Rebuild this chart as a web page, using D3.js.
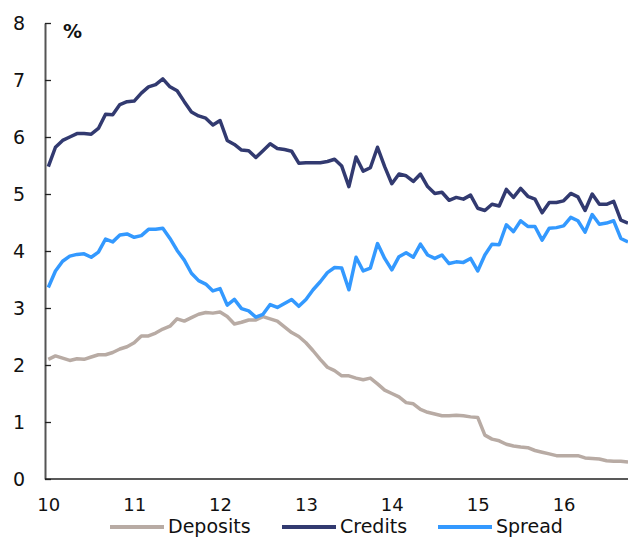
<!DOCTYPE html>
<html>
<head>
<meta charset="utf-8">
<script src="https://cdn.jsdelivr.net/npm/d3@7"></script>
<style>
  html, body { margin: 0; padding: 0; background: #fff; }
  svg { display: block; }
  text { font-family: "DejaVu Sans", sans-serif; fill: #111; }
</style>
</head>
<body>
<svg id="chart" width="628" height="538"></svg>
<script>
// Monthly observations, Jan 2010 .. Oct 2016 (index 0..81)
const deposits = [2.10,2.16,2.12,2.08,2.11,2.10,2.14,2.18,2.18,2.22,2.28,2.32,
  2.39,2.51,2.51,2.56,2.63,2.68,2.81,2.77,2.83,2.89,2.92,2.91,
  2.93,2.85,2.72,2.75,2.79,2.79,2.85,2.81,2.77,2.67,2.57,2.50,
  2.39,2.25,2.10,1.96,1.90,1.81,1.81,1.77,1.74,1.77,1.67,1.56,
  1.50,1.44,1.34,1.32,1.22,1.17,1.14,1.11,1.11,1.12,1.11,1.09,
  1.08,0.77,0.70,0.67,0.61,0.58,0.56,0.55,0.50,0.47,0.44,0.41,
  0.41,0.41,0.41,0.37,0.36,0.35,0.32,0.31,0.31,0.30];
const credits = [5.48,5.82,5.94,6.00,6.06,6.06,6.05,6.15,6.40,6.39,6.57,6.62,
  6.63,6.77,6.88,6.92,7.02,6.88,6.81,6.62,6.44,6.37,6.33,6.21,
  6.29,5.94,5.87,5.77,5.76,5.64,5.76,5.88,5.80,5.78,5.75,5.54,
  5.55,5.55,5.55,5.57,5.61,5.49,5.13,5.65,5.40,5.46,5.82,5.48,
  5.18,5.35,5.32,5.22,5.35,5.13,5.01,5.03,4.89,4.94,4.91,4.98,
  4.75,4.71,4.82,4.79,5.08,4.94,5.10,4.96,4.91,4.67,4.85,4.85,
  4.88,5.01,4.95,4.71,5.00,4.82,4.82,4.87,4.54,4.49];
const spread = [3.36,3.65,3.82,3.91,3.94,3.95,3.89,3.98,4.21,4.16,4.28,4.30,
  4.24,4.27,4.38,4.38,4.40,4.22,4.01,3.84,3.61,3.48,3.42,3.30,
  3.34,3.05,3.15,2.99,2.95,2.84,2.89,3.06,3.01,3.08,3.15,3.03,
  3.15,3.32,3.46,3.62,3.71,3.70,3.32,3.89,3.65,3.70,4.13,3.87,
  3.67,3.90,3.97,3.89,4.12,3.93,3.87,3.93,3.78,3.81,3.80,3.87,
  3.65,3.93,4.12,4.11,4.46,4.34,4.53,4.43,4.43,4.19,4.40,4.41,
  4.44,4.59,4.53,4.33,4.64,4.47,4.49,4.53,4.22,4.16];
const seriesNames = ["Deposits", "Credits", "Spread"];
const seriesColors = ["#b8aba4", "#323a70", "#3399ff"];
const xTickIndex = [0, 12, 24, 36, 48, 60, 72];
const xTickLabels = ["10", "11", "12", "13", "14", "15", "16"];
const yTicks = [0, 1, 2, 3, 4, 5, 6, 7, 8];
const unitLabel = "%";

const svg = d3.select("#chart");
const axisX = 45, plotTop = 23, plotBottom = 479, plotRight = 628;

const x = d3.scaleLinear().domain([0, deposits.length - 1]).range([48.3, 628]);
const y = d3.scaleLinear().domain([0, 8]).range([plotBottom, plotTop]);

// Y axis
const yAxis = d3.axisLeft(y).tickValues(yTicks).tickFormat(d3.format("d"))
  .tickSizeInner(-6).tickSizeOuter(0).tickPadding(20);
const gy = svg.append("g").attr("transform", `translate(${axisX},0)`).call(yAxis);
gy.select(".domain").attr("stroke", "#555").attr("stroke-width", 2);
gy.selectAll(".tick line").attr("stroke", "#222").attr("stroke-width", 1.3);
gy.selectAll(".tick text").attr("font-size", 19).attr("font-family", "DejaVu Sans").attr("fill", "#111");

// X axis
const xAxis = d3.axisBottom(x).tickValues(xTickIndex)
  .tickFormat((d, i) => xTickLabels[i]).tickSize(0).tickPadding(19);
const gx = svg.append("g").attr("transform", `translate(0,${plotBottom})`).call(xAxis);
gx.select(".domain").remove();
gx.selectAll(".tick text").attr("font-size", 18).attr("font-family", "DejaVu Sans").attr("fill", "#111");
svg.append("line").attr("x1", axisX).attr("x2", plotRight).attr("y1", plotBottom).attr("y2", plotBottom)
  .attr("stroke", "#222").attr("stroke-width", 1.5);

// Lines
const line = d3.line().x((d, i) => x(i)).y(d => y(d));
const data = [deposits, credits, spread];
data.forEach((s, k) => {
  svg.append("path").datum(s).attr("d", line)
    .attr("fill", "none").attr("stroke", seriesColors[k])
    .attr("stroke-width", 3.5).attr("stroke-linejoin", "round");
});

// Unit label
svg.append("text").attr("x", 63).attr("y", 38).attr("font-size", 19)
  .attr("font-weight", "bold").text(unitLabel);

// Legend
const legendX = [110, 282, 438];
seriesNames.forEach((n, k) => {
  svg.append("line").attr("x1", legendX[k]).attr("x2", legendX[k] + 54)
    .attr("y1", 527).attr("y2", 527).attr("stroke", seriesColors[k]).attr("stroke-width", 4);
  svg.append("text").attr("x", legendX[k] + 58).attr("y", 533).attr("font-size", 19)
    .text(n);
});
</script>
</body>
</html>
